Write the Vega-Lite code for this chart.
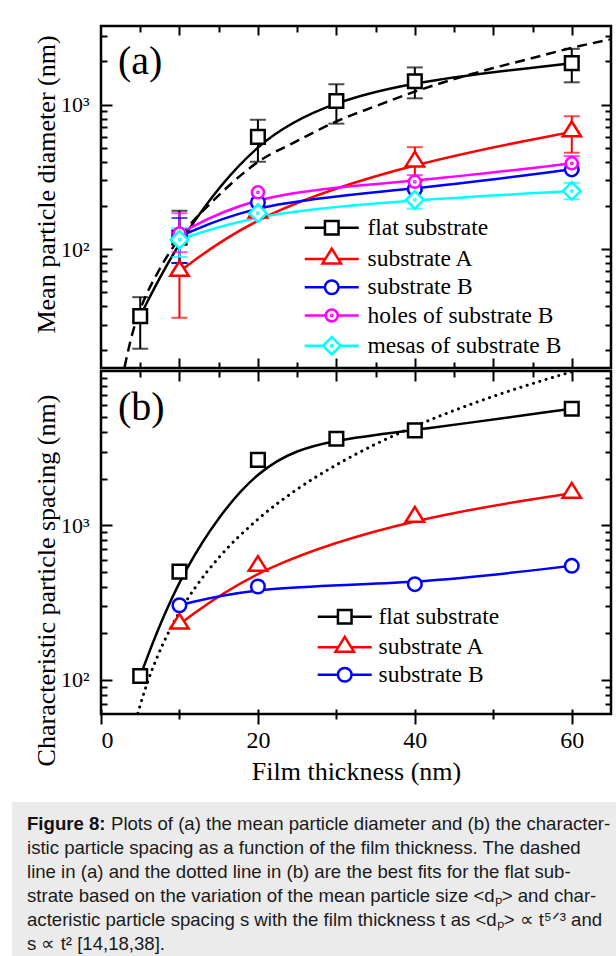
{
  "$schema": "https://vega.github.io/schema/vega-lite/v6.json",
  "padding": {"left": 12, "top": 23, "right": 0, "bottom": 0},
  "background": "white",
  "config": {
    "view": {"stroke": "black", "strokeWidth": 2.5},
    "axis": {"domain": false, "grid": false, "tickColor": "black", "tickWidth": 2, "labelFont": "Liberation Serif", "titleFont": "Liberation Serif", "labelColor": "black", "titleColor": "black", "titleFontWeight": "normal", "labelFontSize": 22, "titleFontSize": 26}
  },
  "datasets": {
    "a_pts": [
      {"s": "flat substrate", "x": 5, "y": 34.3, "lo": 20.4, "hi": 46.4},
      {"s": "flat substrate", "x": 10, "y": 120, "lo": 80, "hi": 184},
      {"s": "flat substrate", "x": 20, "y": 598, "lo": 402, "hi": 785},
      {"s": "flat substrate", "x": 30, "y": 1059, "lo": 738, "hi": 1383},
      {"s": "flat substrate", "x": 40, "y": 1452, "lo": 1105, "hi": 1808},
      {"s": "flat substrate", "x": 60, "y": 1936, "lo": 1426, "hi": 2432},
      {"s": "substrate A", "x": 10, "y": 70, "lo": 33.4, "hi": 107},
      {"s": "substrate A", "x": 20, "y": 177},
      {"s": "substrate A", "x": 40, "y": 400, "lo": 295, "hi": 507},
      {"s": "substrate A", "x": 60, "y": 647, "lo": 464, "hi": 830},
      {"s": "substrate B", "x": 10, "y": 122, "lo": 80, "hi": 164},
      {"s": "substrate B", "x": 20, "y": 210},
      {"s": "substrate B", "x": 40, "y": 259},
      {"s": "substrate B", "x": 60, "y": 356},
      {"s": "holes of substrate B", "x": 10, "y": 128, "lo": 95, "hi": 177},
      {"s": "holes of substrate B", "x": 20, "y": 247},
      {"s": "holes of substrate B", "x": 40, "y": 292, "lo": 262, "hi": 325},
      {"s": "holes of substrate B", "x": 60, "y": 392, "lo": 350, "hi": 440},
      {"s": "mesas of substrate B", "x": 10, "y": 116, "lo": 88, "hi": 140},
      {"s": "mesas of substrate B", "x": 20, "y": 177},
      {"s": "mesas of substrate B", "x": 40, "y": 219, "lo": 190, "hi": 252},
      {"s": "mesas of substrate B", "x": 60, "y": 252, "lo": 221, "hi": 287}
    ],
    "a_fit": [
      {"x": 3.0, "y": 15.2}, {"x": 4, "y": 26}, {"x": 5, "y": 38}, {"x": 7.5, "y": 73},
      {"x": 10, "y": 119}, {"x": 15, "y": 235}, {"x": 20, "y": 400}, {"x": 25, "y": 560},
      {"x": 30, "y": 765}, {"x": 35, "y": 975}, {"x": 40, "y": 1230}, {"x": 45, "y": 1500},
      {"x": 50, "y": 1790}, {"x": 55, "y": 2100}, {"x": 60, "y": 2470}, {"x": 65, "y": 2830}
    ],
    "b_pts": [
      {"s": "flat substrate", "x": 5, "y": 105.7},
      {"s": "flat substrate", "x": 10, "y": 502},
      {"s": "flat substrate", "x": 20, "y": 2655},
      {"s": "flat substrate", "x": 30, "y": 3637},
      {"s": "flat substrate", "x": 40, "y": 4124},
      {"s": "flat substrate", "x": 60, "y": 5700},
      {"s": "substrate A", "x": 10, "y": 229},
      {"s": "substrate A", "x": 20, "y": 542},
      {"s": "substrate A", "x": 40, "y": 1127},
      {"s": "substrate A", "x": 60, "y": 1614},
      {"s": "substrate B", "x": 10, "y": 304},
      {"s": "substrate B", "x": 20, "y": 402},
      {"s": "substrate B", "x": 40, "y": 416},
      {"s": "substrate B", "x": 60, "y": 547}
    ],
    "b_fit": [
      {"x": 4.7, "y": 60.5}, {"x": 5, "y": 68.5}, {"x": 6, "y": 98.6}, {"x": 7, "y": 134},
      {"x": 8, "y": 175}, {"x": 10, "y": 274}, {"x": 12, "y": 395}, {"x": 15, "y": 617},
      {"x": 20, "y": 1096}, {"x": 25, "y": 1713}, {"x": 30, "y": 2466}, {"x": 35, "y": 3357},
      {"x": 40, "y": 4384}, {"x": 45, "y": 5549}, {"x": 50, "y": 6850}, {"x": 55, "y": 8289},
      {"x": 60, "y": 9864}, {"x": 60.4, "y": 9990}
    ],
    "cap": [
      {"part": "bold", "line": 1, "text": "Figure 8:"},
      {"part": "first", "line": 1, "text": "Plots of (a) the mean particle diameter and (b) the character-"},
      {"part": "rest", "line": 2, "text": "istic particle spacing as a function of the film thickness. The dashed"},
      {"part": "rest", "line": 3, "text": "line in (a) and the dotted line in (b) are the best fits for the flat sub-"},
      {"part": "rest", "line": 4, "text": "strate based on the variation of the mean particle size <dₚ> and char-"},
      {"part": "rest", "line": 5, "text": "acteristic particle spacing s with the film thickness t as <dₚ> ∝ t⁵ᐟ³ and"},
      {"part": "rest", "line": 6, "text": "s ∝ t² [14,18,38]."}
    ]
  },
  "spacing": 16,
  "vconcat": [
    {
      "spacing": -5,
      "vconcat": [
        {
          "width": 510,
          "height": 342,
          "resolve": {"scale": {"shape": "independent", "color": "independent"}, "axis": {"x": "independent", "y": "independent"}},
          "layer": [
            {
              "data": {"name": "a_fit"},
              "mark": {"type": "line", "color": "black", "strokeWidth": 2.5, "strokeDash": [10, 6], "interpolate": "monotone", "clip": true},
              "encoding": {
                "x": {"field": "x", "type": "quantitative", "scale": {"domain": [0, 65], "nice": false, "zero": false},
                  "axis": {"orient": "bottom", "values": [5, 10, 15, 20, 25, 30, 35, 40, 45, 50, 55, 60], "labels": false, "title": null,
                    "tickSize": {"condition": {"test": "datum.value % 10 == 0", "value": -10}, "value": -6}}},
                "y": {"field": "y", "type": "quantitative", "scale": {"type": "log", "domain": [15, 3500], "nice": false},
                  "axis": {"orient": "left", "values": [20, 30, 40, 50, 60, 70, 80, 90, 100, 200, 300, 400, 500, 600, 700, 800, 900, 1000, 2000, 3000],
                    "labelExpr": "datum.value == 100 ? '10²' : datum.value == 1000 ? '10³' : ''",
                    "labelFontSize": {"condition": {"test": "datum.value == 100 || datum.value == 1000", "value": 22}, "value": 0},
                    "tickSize": {"condition": {"test": "datum.value == 100 || datum.value == 1000", "value": -11}, "value": -6},
                    "labelPadding": 23,
                    "title": "Mean particle diameter (nm)", "titleX": -47, "titleY": 158, "titleBaseline": "alphabetic"}}
              }
            },
            {
              "data": {"name": "a_pts"},
              "mark": {"type": "line", "strokeWidth": 2.5, "interpolate": "basis"},
              "encoding": {
                "x": {"field": "x", "type": "quantitative", "scale": {"domain": [0, 65], "nice": false, "zero": false},
                  "axis": {"orient": "top", "values": [5, 10, 15, 20, 25, 30, 35, 40, 45, 50, 55, 60], "labels": false, "title": null,
                    "tickSize": {"condition": {"test": "datum.value % 10 == 0", "value": -9}, "value": -6}}},
                "y": {"field": "y", "type": "quantitative", "scale": {"type": "log", "domain": [15, 3500], "nice": false},
                  "axis": {"orient": "right", "values": [20, 30, 40, 50, 60, 70, 80, 90, 100, 200, 300, 400, 500, 600, 700, 800, 900, 1000, 2000, 3000],
                    "labels": false, "title": null,
                    "tickSize": {"condition": {"test": "datum.value == 100 || datum.value == 1000", "value": -10}, "value": -6}}},
                "color": {"field": "s", "type": "nominal", "legend": null,
                  "scale": {"domain": ["flat substrate", "substrate A", "substrate B", "holes of substrate B", "mesas of substrate B"], "range": ["#000000", "#ff0000", "#0000ff", "#ff00ff", "#00ffff"]}}
              }
            },
            {
              "data": {"name": "a_pts"},
              "transform": [{"filter": "isValid(datum.lo)"}],
              "mark": {"type": "rule", "strokeWidth": 2},
              "encoding": {
                "x": {"field": "x", "type": "quantitative", "axis": null},
                "y": {"field": "lo", "type": "quantitative", "axis": null},
                "y2": {"field": "hi"},
                "color": {"field": "s", "type": "nominal", "legend": null,
                  "scale": {"domain": ["flat substrate", "substrate A", "substrate B", "holes of substrate B", "mesas of substrate B"], "range": ["#000000", "#ff0000", "#0000ff", "#ff00ff", "#00ffff"]}}
              }
            },
            {
              "data": {"name": "a_pts"},
              "transform": [{"filter": "isValid(datum.lo)"}],
              "mark": {"type": "tick", "orient": "horizontal", "size": 16, "thickness": 2},
              "encoding": {
                "x": {"field": "x", "type": "quantitative", "axis": null},
                "y": {"field": "lo", "type": "quantitative", "axis": null},
                "color": {"field": "s", "type": "nominal", "legend": null,
                  "scale": {"domain": ["flat substrate", "substrate A", "substrate B", "holes of substrate B", "mesas of substrate B"], "range": ["#000000", "#ff0000", "#0000ff", "#ff00ff", "#00ffff"]}}
              }
            },
            {
              "data": {"name": "a_pts"},
              "transform": [{"filter": "isValid(datum.hi)"}],
              "mark": {"type": "tick", "orient": "horizontal", "size": 16, "thickness": 2},
              "encoding": {
                "x": {"field": "x", "type": "quantitative", "axis": null},
                "y": {"field": "hi", "type": "quantitative", "axis": null},
                "color": {"field": "s", "type": "nominal", "legend": null,
                  "scale": {"domain": ["flat substrate", "substrate A", "substrate B", "holes of substrate B", "mesas of substrate B"], "range": ["#000000", "#ff0000", "#0000ff", "#ff00ff", "#00ffff"]}}
              }
            },
            {
              "data": {"name": "a_pts"},
              "mark": {"type": "point", "filled": false, "fill": "white", "size": 256, "strokeWidth": 2.5, "opacity": 1},
              "encoding": {
                "x": {"field": "x", "type": "quantitative", "axis": null},
                "y": {"field": "y", "type": "quantitative", "axis": null},
                "color": {"field": "s", "type": "nominal", "legend": null,
                  "scale": {"domain": ["flat substrate", "substrate A", "substrate B", "holes of substrate B", "mesas of substrate B"], "range": ["#000000", "#ff0000", "#0000ff", "#ff00ff", "#00ffff"]}},
                "shape": {"field": "s", "type": "nominal", "legend": null,
                  "scale": {"domain": ["flat substrate", "substrate A", "substrate B", "holes of substrate B", "mesas of substrate B"],
                    "range": [
                      "M-0.85,-0.85H0.85V0.85H-0.85Z",
                      "M0,-1.3L1.15,0.55H-1.15Z",
                      "M0.85,0A0.85,0.85 0 1,1 -0.85,0A0.85,0.85 0 1,1 0.85,0Z",
                      "M0.75,0A0.75,0.75 0 1,1 -0.75,0A0.75,0.75 0 1,1 0.75,0ZM0.08,0A0.08,0.08 0 1,1 -0.08,0A0.08,0.08 0 1,1 0.08,0Z",
                      "M0,-1.1L1.1,0L0,1.1L-1.1,0ZM0.08,0A0.08,0.08 0 1,1 -0.08,0A0.08,0.08 0 1,1 0.08,0Z"
                    ]}}
              }
            },
            {
              "data": {"name": "a_pts"},
              "transform": [{"filter": "false"}],
              "mark": {"type": "point", "filled": false, "fill": "white", "size": 256, "strokeWidth": 2.5, "opacity": 1},
              "encoding": {
                "x": {"field": "x", "type": "quantitative", "axis": null},
                "y": {"field": "y", "type": "quantitative", "axis": null},
                "color": {"field": "s", "type": "nominal",
                  "legend": {"orient": "none", "legendX": 219, "legendY": 190, "title": null, "labelFont": "Liberation Serif", "labelFontSize": 23.5, "labelColor": "black", "labelOffset": 24, "rowPadding": 3.25, "symbolSize": 256, "symbolStrokeWidth": 2.5, "symbolFillColor": "white", "padding": 0, "labelLimit": 500},
                  "scale": {"domain": ["flat substrate", "substrate A", "substrate B", "holes of substrate B", "mesas of substrate B"], "range": ["#000000", "#ff0000", "#0000ff", "#ff00ff", "#00ffff"]}},
                "shape": {"field": "s", "type": "nominal",
                  "legend": {"orient": "none", "legendX": 219, "legendY": 190, "title": null, "labelFont": "Liberation Serif", "labelFontSize": 23.5, "labelColor": "black", "labelOffset": 24, "rowPadding": 3.25, "symbolSize": 256, "symbolStrokeWidth": 2.5, "symbolFillColor": "white", "padding": 0, "labelLimit": 500},
                  "scale": {"domain": ["flat substrate", "substrate A", "substrate B", "holes of substrate B", "mesas of substrate B"],
                    "range": [
                      "M-3.375,0H-0.85M0.85,0H3.375M-0.85,-0.85H0.85V0.85H-0.85Z",
                      "M-3.375,0H-0.81M0.81,0H3.375M0,-1.3L1.15,0.55H-1.15Z",
                      "M-3.375,0H-0.85M0.85,0H3.375M0.85,0A0.85,0.85 0 1,1 -0.85,0A0.85,0.85 0 1,1 0.85,0Z",
                      "M-3.375,0H-0.75M0.75,0H3.375M0.75,0A0.75,0.75 0 1,1 -0.75,0A0.75,0.75 0 1,1 0.75,0ZM0.08,0A0.08,0.08 0 1,1 -0.08,0A0.08,0.08 0 1,1 0.08,0Z",
                      "M-3.375,0H-1.1M1.1,0H3.375M0,-1.1L1.1,0L0,1.1L-1.1,0ZM0.08,0A0.08,0.08 0 1,1 -0.08,0A0.08,0.08 0 1,1 0.08,0Z"
                    ]}}
              }
            },
            {
              "data": {"values": [{"label": "(a)"}]},
              "mark": {"type": "text", "align": "left", "baseline": "alphabetic", "font": "Liberation Serif", "fontSize": 40, "color": "black"},
              "encoding": {
                "x": {"datum": 2.17, "type": "quantitative", "axis": null},
                "y": {"datum": 1628, "type": "quantitative", "axis": null},
                "text": {"field": "label"}
              }
            }
          ]
        },
        {
          "width": 510,
          "height": 343,
          "resolve": {"scale": {"shape": "independent", "color": "independent"}, "axis": {"x": "independent", "y": "independent"}},
          "layer": [
            {
              "data": {"name": "b_fit"},
              "mark": {"type": "line", "color": "black", "strokeWidth": 3, "strokeDash": [0.1, 6.5], "strokeCap": "round", "interpolate": "monotone", "clip": true},
              "encoding": {
                "x": {"field": "x", "type": "quantitative", "scale": {"domain": [0, 65], "nice": false, "zero": false},
                  "axis": {"orient": "bottom", "values": [0, 10, 20, 30, 40, 50, 60], "offset": -5,
                    "labelExpr": "datum.value % 20 == 0 ? datum.label : ''", "labelFontSize": 24, "labelPadding": 4,
                    "tickSize": {"condition": {"test": "datum.value % 20 == 0", "value": 15}, "value": 10},
                    "title": "Film thickness (nm)", "titlePadding": 6}},
                "y": {"field": "y", "type": "quantitative", "scale": {"type": "log", "domain": [60, 10000], "nice": false},
                  "axis": {"orient": "left", "values": [70, 80, 90, 100, 200, 300, 400, 500, 600, 700, 800, 900, 1000, 2000, 3000, 4000, 5000, 6000, 7000, 8000, 9000],
                    "labelExpr": "datum.value == 100 ? '10²' : datum.value == 1000 ? '10³' : ''",
                    "labelFontSize": {"condition": {"test": "datum.value == 100 || datum.value == 1000", "value": 22}, "value": 0},
                    "tickSize": {"condition": {"test": "datum.value == 100 || datum.value == 1000", "value": -11}, "value": -6},
                    "labelPadding": 23,
                    "title": "Characteristic particle spacing (nm)", "titleX": -47, "titleY": 209, "titleBaseline": "alphabetic"}}
              }
            },
            {
              "data": {"name": "b_pts"},
              "mark": {"type": "line", "strokeWidth": 2.5, "interpolate": "basis"},
              "encoding": {
                "x": {"field": "x", "type": "quantitative", "scale": {"domain": [0, 65], "nice": false, "zero": false},
                  "axis": {"orient": "top", "values": [5, 10, 15, 20, 25, 30, 35, 40, 45, 50, 55, 60], "labels": false, "title": null,
                    "tickSize": {"condition": {"test": "datum.value % 10 == 0", "value": -10}, "value": -6}}},
                "y": {"field": "y", "type": "quantitative", "scale": {"type": "log", "domain": [60, 10000], "nice": false},
                  "axis": {"orient": "right", "values": [70, 80, 90, 100, 200, 300, 400, 500, 600, 700, 800, 900, 1000, 2000, 3000, 4000, 5000, 6000, 7000, 8000, 9000],
                    "labels": false, "title": null,
                    "tickSize": {"condition": {"test": "datum.value == 100 || datum.value == 1000", "value": -10}, "value": -6}}},
                "color": {"field": "s", "type": "nominal", "legend": null,
                  "scale": {"domain": ["flat substrate", "substrate A", "substrate B"], "range": ["#000000", "#ff0000", "#0000ff"]}}
              }
            },
            {
              "data": {"name": "b_pts"},
              "mark": {"type": "point", "filled": false, "fill": "white", "size": 256, "strokeWidth": 2.5, "opacity": 1},
              "encoding": {
                "x": {"field": "x", "type": "quantitative", "axis": null},
                "y": {"field": "y", "type": "quantitative", "axis": null},
                "color": {"field": "s", "type": "nominal", "legend": null,
                  "scale": {"domain": ["flat substrate", "substrate A", "substrate B"], "range": ["#000000", "#ff0000", "#0000ff"]}},
                "shape": {"field": "s", "type": "nominal", "legend": null,
                  "scale": {"domain": ["flat substrate", "substrate A", "substrate B"],
                    "range": [
                      "M-0.85,-0.85H0.85V0.85H-0.85Z",
                      "M0,-1.3L1.15,0.55H-1.15Z",
                      "M0.85,0A0.85,0.85 0 1,1 -0.85,0A0.85,0.85 0 1,1 0.85,0Z"
                    ]}}
              }
            },
            {
              "data": {"name": "b_pts"},
              "transform": [{"filter": "false"}],
              "mark": {"type": "point", "filled": false, "fill": "white", "size": 256, "strokeWidth": 2.5, "opacity": 1},
              "encoding": {
                "x": {"field": "x", "type": "quantitative", "axis": null},
                "y": {"field": "y", "type": "quantitative", "axis": null},
                "color": {"field": "s", "type": "nominal",
                  "legend": {"orient": "none", "legendX": 232, "legendY": 234, "title": null, "labelFont": "Liberation Serif", "labelFontSize": 23.5, "labelColor": "black", "labelOffset": 22, "rowPadding": 2.5, "symbolSize": 256, "symbolStrokeWidth": 2.5, "symbolFillColor": "white", "padding": 0, "labelLimit": 500},
                  "scale": {"domain": ["flat substrate", "substrate A", "substrate B"], "range": ["#000000", "#ff0000", "#0000ff"]}},
                "shape": {"field": "s", "type": "nominal",
                  "legend": {"orient": "none", "legendX": 232, "legendY": 234, "title": null, "labelFont": "Liberation Serif", "labelFontSize": 23.5, "labelColor": "black", "labelOffset": 22, "rowPadding": 2.5, "symbolSize": 256, "symbolStrokeWidth": 2.5, "symbolFillColor": "white", "padding": 0, "labelLimit": 500},
                  "scale": {"domain": ["flat substrate", "substrate A", "substrate B"],
                    "range": [
                      "M-3.375,0H-0.85M0.85,0H3.375M-0.85,-0.85H0.85V0.85H-0.85Z",
                      "M-3.375,0H-0.81M0.81,0H3.375M0,-1.3L1.15,0.55H-1.15Z",
                      "M-3.375,0H-0.85M0.85,0H3.375M0.85,0A0.85,0.85 0 1,1 -0.85,0A0.85,0.85 0 1,1 0.85,0Z"
                    ]}}
              }
            },
            {
              "data": {"values": [{"label": "(b)"}]},
              "mark": {"type": "text", "align": "left", "baseline": "alphabetic", "font": "Liberation Serif", "fontSize": 40, "color": "black"},
              "encoding": {
                "x": {"datum": 2.17, "type": "quantitative", "axis": null},
                "y": {"datum": 4815, "type": "quantitative", "axis": null},
                "text": {"field": "label"}
              }
            }
          ]
        }
      ]
    },
    {
      "width": 515,
      "height": 156,
      "view": {"stroke": null},
      "layer": [
        {
          "data": {"values": [{}]},
          "mark": {"type": "rect", "color": "#ebebeb"},
          "encoding": {
            "x": {"datum": -89, "type": "quantitative", "scale": {"domain": [0, 515], "nice": false, "zero": false}, "axis": null},
            "x2": {"datum": 515}
          }
        },
        {
          "data": {"name": "cap"},
          "transform": [{"filter": "datum.part == 'bold'"}],
          "mark": {"type": "text", "align": "left", "baseline": "middle", "font": "Liberation Sans", "fontSize": 18.6, "fontWeight": "bold", "color": "#111111"},
          "encoding": {
            "x": {"datum": -74, "type": "quantitative"},
            "y": {"field": "line", "type": "quantitative", "scale": {"domain": [0.096, 6.596], "reverse": true, "nice": false, "zero": false}, "axis": null},
            "text": {"field": "text"}
          }
        },
        {
          "data": {"name": "cap"},
          "transform": [{"filter": "datum.part == 'first'"}],
          "mark": {"type": "text", "align": "left", "baseline": "middle", "font": "Liberation Sans", "fontSize": 18.6, "dx": 84, "color": "#1a1a1a"},
          "encoding": {
            "x": {"datum": -74, "type": "quantitative"},
            "y": {"field": "line", "type": "quantitative"},
            "text": {"field": "text"}
          }
        },
        {
          "data": {"name": "cap"},
          "transform": [{"filter": "datum.part == 'rest'"}],
          "mark": {"type": "text", "align": "left", "baseline": "middle", "font": "Liberation Sans", "fontSize": 18.6, "color": "#1a1a1a"},
          "encoding": {
            "x": {"datum": -74, "type": "quantitative"},
            "y": {"field": "line", "type": "quantitative"},
            "text": {"field": "text"}
          }
        }
      ]
    }
  ]
}
